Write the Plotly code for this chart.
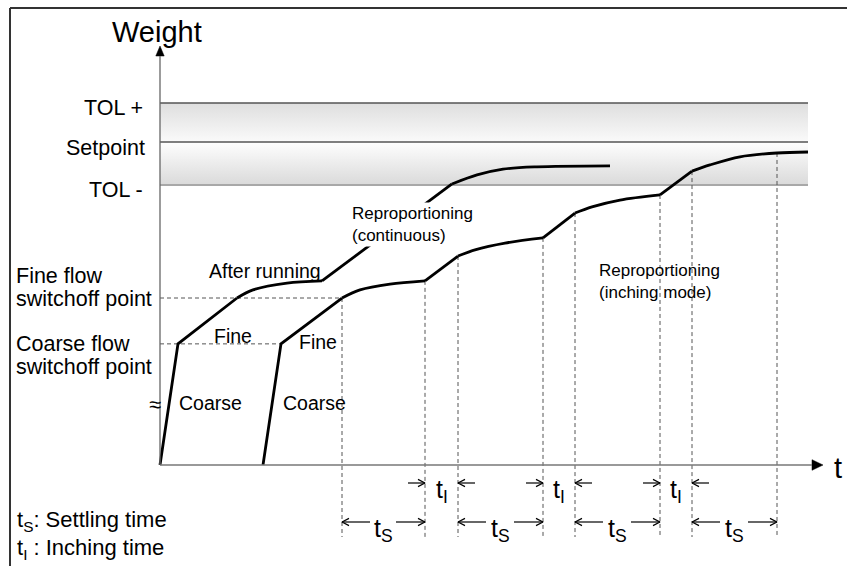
import plotly.graph_objects as go

# ---------------- data (time in s, weight in % of setpoint) ----------------
tol_plus = 112.1
setpoint = 100.0
tol_minus = 86.7
fine_switch = 51.7
coarse_switch = 37.5
band_end = 64.8

# dosing 1: after running + continuous reproportioning
c1_time = [0.0, 1.8, 7.7, 9.3, 12.7, 16.2, 29.2, 31.7, 34.3, 37.7, 45.0]
c1_weight = [0.0, 37.5, 51.7, 54.2, 56.3, 57.0, 87.0, 89.8, 91.6, 92.3, 92.6]
c1_settle = [(7.7, 16.2), (29.2, 45.0)]

# dosing 2: reproportioning in inching mode
c2_time = [10.3, 12.1, 18.2, 20.0, 23.0, 26.5, 29.8, 31.5, 34.5, 38.3,
           41.5, 43.2, 46.0, 50.0, 53.2, 55.0, 58.0, 61.7, 64.8]
c2_weight = [0.0, 37.5, 51.7, 54.2, 56.0, 57.0, 64.7, 66.6, 68.7, 70.3,
             78.0, 79.9, 82.0, 83.6, 91.0, 92.9, 95.4, 96.6, 96.9]

settle_start = [18.2, 29.8, 41.5, 53.2]
settle_end = [26.5, 38.3, 50.0, 61.7]

level_labels = ["TOL +", "Setpoint", "TOL -"]
level_values = [tol_plus, setpoint, tol_minus]

# ---------------- layout helpers ----------------
W, H = 847, 566
X0, Y0 = 160, 465      # pixel of origin
SX, SY = 10.0, 3.23    # pixels per unit

def at(px, py):
    return (px - X0) / SX, (Y0 - py) / SY

FONT = "Liberation Sans, Arial, sans-serif"
fig = go.Figure()

# tolerance bands with gradients
fig.add_trace(go.Scatter(
    x=[0, band_end, band_end, 0, 0],
    y=[setpoint, setpoint, tol_plus, tol_plus, setpoint],
    fill="toself", mode="none", hoverinfo="skip",
    fillgradient=dict(type="vertical", start=setpoint, stop=tol_plus,
                      colorscale=[[0, "#fafafa"], [1, "#dedede"]])))
fig.add_trace(go.Scatter(
    x=[0, band_end, band_end, 0, 0],
    y=[tol_minus, tol_minus, setpoint, setpoint, tol_minus],
    fill="toself", mode="none", hoverinfo="skip",
    fillgradient=dict(type="vertical", start=tol_minus, stop=setpoint,
                      colorscale=[[0, "#dadada"], [1, "#fefefe"]])))

# band boundary lines
for val, col, wd in [(tol_plus, "#555", 1.5), (setpoint, "#555", 1.5), (tol_minus, "#a8a8a8", 2)]:
    fig.add_trace(go.Scatter(x=[0, band_end], y=[val, val], mode="lines", hoverinfo="skip",
                             line=dict(color=col, width=wd)))

# dashed guide lines
dash_style = dict(color="#555", width=1, dash="4px,3px")
bottom_w = at(0, 537)[1]
vx, vy = [], []
for tt in settle_start + settle_end:
    ww = c2_weight[c2_time.index(tt)]
    vx += [tt, tt, None]
    vy += [ww, bottom_w, None]
fig.add_trace(go.Scatter(x=vx, y=vy, mode="lines", line=dash_style, hoverinfo="skip"))
fig.add_trace(go.Scatter(
    x=[0, settle_start[0], None, 0, c2_time[1]],
    y=[fine_switch, fine_switch, None, coarse_switch, coarse_switch],
    mode="lines", line=dash_style, hoverinfo="skip"))


def pieces(t, w, arcs):
    out = []
    cur_t, cur_w, cur_arc = [t[0]], [w[0]], None
    for i in range(len(t) - 1):
        arc = any(a <= t[i] and t[i + 1] <= b + 1e-9 for a, b in arcs)
        if cur_arc is None:
            cur_arc = arc
        if arc != cur_arc:
            out.append((cur_t, cur_w, cur_arc))
            cur_t, cur_w, cur_arc = [t[i]], [w[i]], arc
        cur_t.append(t[i + 1])
        cur_w.append(w[i + 1])
    out.append((cur_t, cur_w, cur_arc))
    return out

c2_settle = list(zip(settle_start, settle_end[:-1] + [c2_time[-1]]))
for tt, ww, arc in pieces(c1_time, c1_weight, c1_settle) + pieces(c2_time, c2_weight, c2_settle):
    fig.add_trace(go.Scatter(
        x=tt, y=ww, mode="lines", hoverinfo="skip",
        line=dict(color="black", width=2.8,
                  shape="spline" if arc else "linear", smoothing=0.9)))

# interval arrows (open chevrons)
HL, HH = 0.7, 3.6 / SY
ax_, ay_ = [], []

def chevron_arrow(x_tip, y, direction, length):
    xb = x_tip - direction * length
    ax_.extend([xb, x_tip, None, x_tip - direction * HL, x_tip, x_tip - direction * HL, None])
    ay_.extend([y, y, None, y + HH, y, y - HH, None])

ti_w = at(0, 483)[1]
ts_w = at(0, 522)[1]
for k in range(len(settle_start)):
    a, b = settle_start[k], settle_end[k]
    chevron_arrow(a, ts_w, -1, 2.8)
    chevron_arrow(b, ts_w, +1, 2.9)
for k in range(len(settle_start) - 1):
    b, a = settle_end[k], settle_start[k + 1]
    chevron_arrow(b, ti_w, +1, 1.7)
    chevron_arrow(a, ti_w, -1, 1.7)
fig.add_trace(go.Scatter(x=ax_, y=ay_, mode="lines", hoverinfo="skip",
                         line=dict(color="black", width=1.2)))

# axis arrowheads (filled triangles)
xt_tip, xt_base = at(823, 0)[0], at(812, 0)[0]
yt_tip, yt_base = at(0, 46)[1], at(0, 56)[1]
fig.add_trace(go.Scatter(
    x=[xt_base, xt_tip, xt_base, xt_base, None, -0.42, 0, 0.42, -0.42],
    y=[5.3 / SY, 0, -5.3 / SY, 5.3 / SY, None, yt_base, yt_tip, yt_base, yt_base],
    fill="toself", fillcolor="black", mode="lines", line=dict(color="black", width=0.5),
    hoverinfo="skip"))

shapes = []
# axes
shapes.append(dict(type="line", x0=0, x1=xt_base, y0=0, y1=0,
                   line=dict(color="#777", width=1.3)))
shapes.append(dict(type="line", x0=0, x1=0, y0=0, y1=yt_base,
                   line=dict(color="#666", width=1.3)))
# frame
fx0, fy0 = at(10, 8)
fx1, fy1 = at(900, 600)
shapes.append(dict(type="line", x0=fx0, x1=fx1, y0=fy0, y1=fy0, line=dict(color="#333", width=2)))
shapes.append(dict(type="line", x0=fx0, x1=fx0, y0=fy0, y1=fy1, line=dict(color="#333", width=2)))

ann = []

def text(s, px, py, size, xanchor="center", **kw):
    x, y = at(px, py)
    ann.append(dict(x=x, y=y, xref="x", yref="y", text=s, showarrow=False,
                    xanchor=xanchor, yanchor="middle",
                    font=dict(family=FONT, size=size, color="black"), **kw))

for k in range(len(settle_start)):
    mid = (settle_start[k] + settle_end[k]) / 2
    ann.append(dict(x=mid, y=at(0, 530)[1], xref="x", yref="y", text="t<sub>S</sub>",
                    showarrow=False, font=dict(family=FONT, size=25, color="black")))
for k in range(len(settle_start) - 1):
    mid = (settle_end[k] + settle_start[k + 1]) / 2
    ann.append(dict(x=mid, y=at(0, 491)[1], xref="x", yref="y", text="t<sub>I</sub>",
                    showarrow=False, font=dict(family=FONT, size=25, color="black")))

# labels
text("Weight", 157, 32, 29)
text("t", 838, 468, 29)
for lab, py in zip(level_labels, [108, 148, 190]):
    text(lab, 145 if lab != "Setpoint" else 147, py, 21.5, xanchor="right")
text("Fine flow", 15, 276, 21.5, xanchor="left", borderpad=0)
text("switchoff point", 15, 299, 21.5, xanchor="left", borderpad=0)
text("Coarse flow", 15, 344, 21.5, xanchor="left", borderpad=0)
text("switchoff point", 15, 367, 21.5, xanchor="left", borderpad=0)
text("After running", 207, 271, 19.5, xanchor="left")
text("Fine", 212, 336, 19.5, xanchor="left")
text("Fine", 297, 342, 19.5, xanchor="left")
text("Coarse", 177, 403, 19.5, xanchor="left")
text("Coarse", 281, 403, 19.5, xanchor="left")
text("Reproportioning<br>(continuous)", 350, 224, 17, xanchor="left",
     align="left", bgcolor="white")
text("Reproportioning<br>(inching mode)", 597, 281, 17, xanchor="left", align="left")
text("≈", 155, 404, 22)
text("t<sub>S</sub>: Settling time", 15, 521, 22, xanchor="left")
text("t<sub>I</sub> : Inching time", 15, 549, 22, xanchor="left")

xr = [at(0, 0)[0], at(W, 0)[0]]
yr = [at(0, H)[1], at(0, 0)[1]]
fig.update_layout(
    width=W, height=H, margin=dict(l=0, r=0, t=0, b=0),
    paper_bgcolor="white", plot_bgcolor="white", showlegend=False,
    xaxis=dict(range=xr, visible=False, fixedrange=True),
    yaxis=dict(range=yr, visible=False, fixedrange=True),
    shapes=shapes, annotations=ann,
)
fig.write_html("out.html", config={"displayModeBar": False, "staticPlot": True},
               post_script="document.body.style.margin='0';document.body.style.overflow='hidden';")
